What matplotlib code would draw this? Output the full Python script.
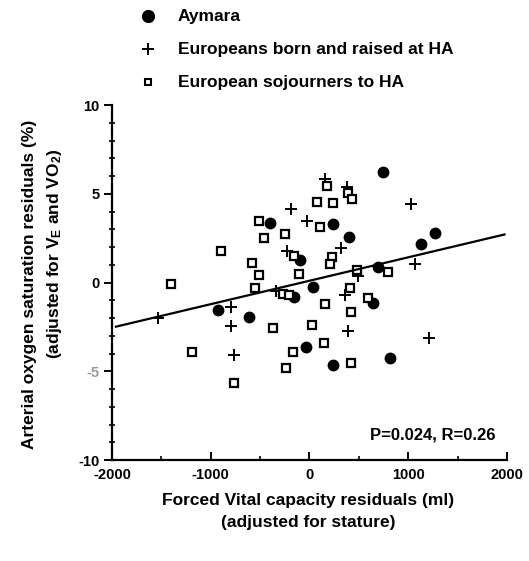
import matplotlib
matplotlib.use("Agg")
import matplotlib.pyplot as plt
from matplotlib.lines import Line2D
import numpy as np

plt.rcParams['font.family'] = ['Liberation Sans', 'DejaVu Sans']
plt.rcParams['font.weight'] = 'bold'
plt.rcParams['axes.unicode_minus'] = False
plt.rcParams['mathtext.fontset'] = 'custom'
plt.rcParams['mathtext.rm'] = 'Liberation Sans:bold'
plt.rcParams['mathtext.it'] = 'Liberation Sans:bold'
plt.rcParams['mathtext.bf'] = 'Liberation Sans:bold'
plt.rcParams['mathtext.default'] = 'rm'

# Aymara (filled circles)
aym_x = [-403, -101, 40, 746, 242, 403, 1270, 1129, -161, -927, -615, -40, 645, 242, 817, 696]
aym_y = [3.35, 1.27, -0.25, 6.23, 3.30, 2.56, 2.79, 2.17, -0.82, -1.55, -1.94, -3.63, -1.15, -4.65, -4.25, 0.87]

# Europeans born and raised at HA (plus)
born_x = [161, 383, 1028, -192, -30, -232, 323, 1069, 494, -343, 363, -1532, -796, -796, -766, 393, 1210]
born_y = [5.83, 5.38, 4.42, 4.14, 3.46, 1.77, 1.94, 1.04, 0.37, -0.48, -0.70, -1.99, -1.38, -2.45, -4.08, -2.73, -3.13]

# European sojourners to HA (open squares)
soj_x = [-897, -464, -252, -514, -161, -585, -514, -111, -1401, -554, -272, -212,
         181, 393, 433, 81, 242, 111, 232, 212, 484, 796, 413, 595, 161, 423,
         30, -373, -1190, -171, -242, -766, 151, 423]
soj_y = [1.77, 2.51, 2.73, 3.46, 1.49, 1.10, 0.42, 0.48, -0.08, -0.31, -0.65, -0.70,
         5.44, 5.04, 4.70, 4.54, 4.48, 3.13, 1.44, 1.04, 0.70, 0.59, -0.31, -0.87, -1.21, -1.66,
         -2.39, -2.56, -3.94, -3.94, -4.79, -5.66, -3.41, -4.54]

# regression line
fit_x = [-1960, 1975]
fit_slope = 0.00132
fit_icpt = 0.1

legend_labels = ['Aymara', 'Europeans born and raised at HA', 'European sojourners to HA']

fig = plt.figure(figsize=(5.29, 5.61), dpi=100)
ax = fig.add_axes([0.2117, 0.18, 0.7467, 0.6328])

ax.plot(aym_x, aym_y, 'o', color='black', markersize=7.5, linestyle='none')
ax.plot(born_x, born_y, '+', color='black', markersize=8.5, markeredgewidth=1.4, linestyle='none')
ax.plot(soj_x, soj_y, 's', markerfacecolor='white', markeredgecolor='black',
        markersize=5.5, markeredgewidth=1.6, linestyle='none')

fx = np.array(fit_x)
ax.plot(fx, fit_slope * fx + fit_icpt, color='black', linewidth=1.6)

ax.set_xlim(-2000, 2000)
ax.set_ylim(-10, 10)
ax.set_xticks([-2000, -1000, 0, 1000, 2000])
ax.set_xticks(np.arange(-2000, 2001, 500), minor=True)
ax.set_yticks([-10, -5, 0, 5, 10])
ax.set_yticks(np.arange(-10, 11, 1), minor=True)
ax.set_yticklabels(['-10', '-5', '0', '5', '10'])
ax.get_yticklabels()[1].set_color('#999999')

for s in ['top', 'right']:
    ax.spines[s].set_visible(False)
for s in ['left', 'bottom']:
    ax.spines[s].set_linewidth(1.6)

ax.tick_params(axis='x', which='major', direction='in', length=6, width=1.4, labelsize=10.5, pad=6)
ax.tick_params(axis='x', which='minor', direction='in', length=3, width=1.2)
ax.tick_params(axis='y', which='major', direction='out', length=6, width=1.4, labelsize=10.5, pad=3)
ax.tick_params(axis='y', which='minor', direction='inout', length=4, width=1.2)

ax.text(0.97, 0.07, 'P=0.024, R=0.26', transform=ax.transAxes, ha='right', va='center', fontsize=12)

# legend drawn above the axes
markers = [dict(marker='o', color='black', markersize=8.5, linestyle='none'),
           dict(marker='+', color='black', markersize=8, markeredgewidth=1.4, linestyle='none'),
           dict(marker='s', markerfacecolor='white', markeredgecolor='black', markersize=5, markeredgewidth=1.5, linestyle='none')]
rows_y = [1 - 16 / 561, 1 - 49 / 561, 1 - 82 / 561]
for lab, mk, yy in zip(legend_labels, markers, rows_y):
    fig.add_artist(Line2D([148 / 529], [yy], transform=fig.transFigure, **mk))
    fig.text(178 / 529, yy, lab, ha='left', va='center', fontsize=12.5)

fig.text(30 / 529, 1 - 284 / 561, 'Arterial oxygen saturation residuals (%)',
         rotation=90, ha='center', va='center', fontsize=12.5)
fig.text(55 / 529, 1 - 254 / 561, r'(adjusted for V$_{E}$ and VO$_{2}$)',
         rotation=90, ha='center', va='center', fontsize=12.5)

fig.text(308 / 529, 1 - 500 / 561, 'Forced Vital capacity residuals (ml)',
         ha='center', va='center', fontsize=12.5)
fig.text(308 / 529, 1 - 522 / 561, '(adjusted for stature)',
         ha='center', va='center', fontsize=12.5)

fig.savefig('out.png', dpi=100)
